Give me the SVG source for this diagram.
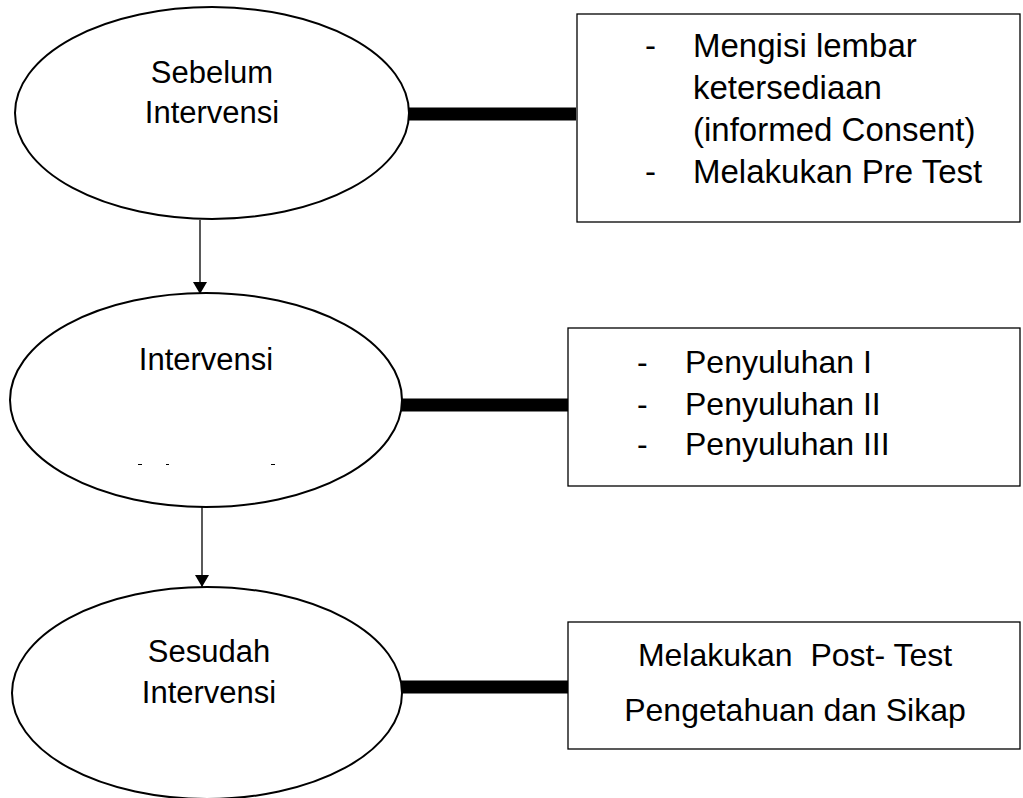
<svg xmlns="http://www.w3.org/2000/svg" width="1023" height="798" viewBox="0 0 1023 798">
<defs>
<style>
.el{fill:#fff;stroke:#000;stroke-width:2}
.bx{fill:#fff;stroke:#000;stroke-width:1.3}
.t{font-family:"Liberation Sans",Arial,sans-serif;font-size:31px;fill:#000}
.b{font-size:32px}
.b1{font-size:33px}
.c{text-anchor:middle}
.bar{stroke:#000;stroke-width:13}
.ar{stroke:#000;stroke-width:1.3;fill:none}
</style>
<marker id="ah" viewBox="0 0 12 14" refX="12" refY="7" markerWidth="12" markerHeight="14" markerUnits="userSpaceOnUse" orient="auto">
<path d="M0,0 L12,7 L0,14 z" fill="#000"/>
</marker>
</defs>
<rect width="1023" height="798" fill="#fff"/>
<g id="connectors">
<line class="bar" x1="407" y1="114" x2="576" y2="114"/>
<line class="bar" x1="401" y1="405" x2="568" y2="405"/>
<line class="bar" x1="401" y1="687" x2="568" y2="687"/>
<line class="ar" x1="200" y1="220" x2="200" y2="294" marker-end="url(#ah)"/>
<line class="ar" x1="202" y1="507" x2="202" y2="587" marker-end="url(#ah)"/>
</g>
<g id="n1">
<ellipse class="el" cx="212" cy="113" rx="197" ry="106"/>
<text class="t c" x="212" y="83">Sebelum</text>
<text class="t c" x="212" y="123">Intervensi</text>
</g>
<g id="n2">
<ellipse class="el" cx="206" cy="400" rx="196" ry="107"/>
<text class="t c" x="206" y="370">Intervensi</text>
<g stroke="#000" stroke-width="1"><line x1="138" y1="464.5" x2="142" y2="464.5"/><line x1="166" y1="464.5" x2="169" y2="464.5"/><line x1="271" y1="464.5" x2="275" y2="464.5"/></g>
</g>
<g id="n3">
<ellipse class="el" cx="207" cy="693" rx="195" ry="106"/>
<text class="t c" x="209" y="662">Sesudah</text>
<text class="t c" x="209" y="703">Intervensi</text>
</g>
<g id="b1">
<rect class="bx" x="577" y="14" width="443" height="208"/>
<text class="t b1" x="645" y="57">-</text>
<text class="t b1" x="693" y="57">Mengisi lembar</text>
<text class="t b1" x="693" y="99">ketersediaan</text>
<text class="t b1" x="693" y="141">(informed Consent)</text>
<text class="t b1" x="645" y="183">-</text>
<text class="t b1" x="693" y="183">Melakukan Pre Test</text>
</g>
<g id="b2">
<rect class="bx" x="568" y="328" width="452" height="158"/>
<text class="t b" x="637" y="373">-</text>
<text class="t b" x="685" y="373">Penyuluhan I</text>
<text class="t b" x="637" y="415">-</text>
<text class="t b" x="685" y="415">Penyuluhan II</text>
<text class="t b" x="637" y="455">-</text>
<text class="t b" x="685" y="455">Penyuluhan III</text>
</g>
<g id="b3">
<rect class="bx" x="568" y="622" width="452" height="127"/>
<text class="t b c" x="795" y="666" xml:space="preserve">Melakukan  Post- Test</text>
<text class="t b c" x="795" y="721">Pengetahuan dan Sikap</text>
</g>
</svg>
